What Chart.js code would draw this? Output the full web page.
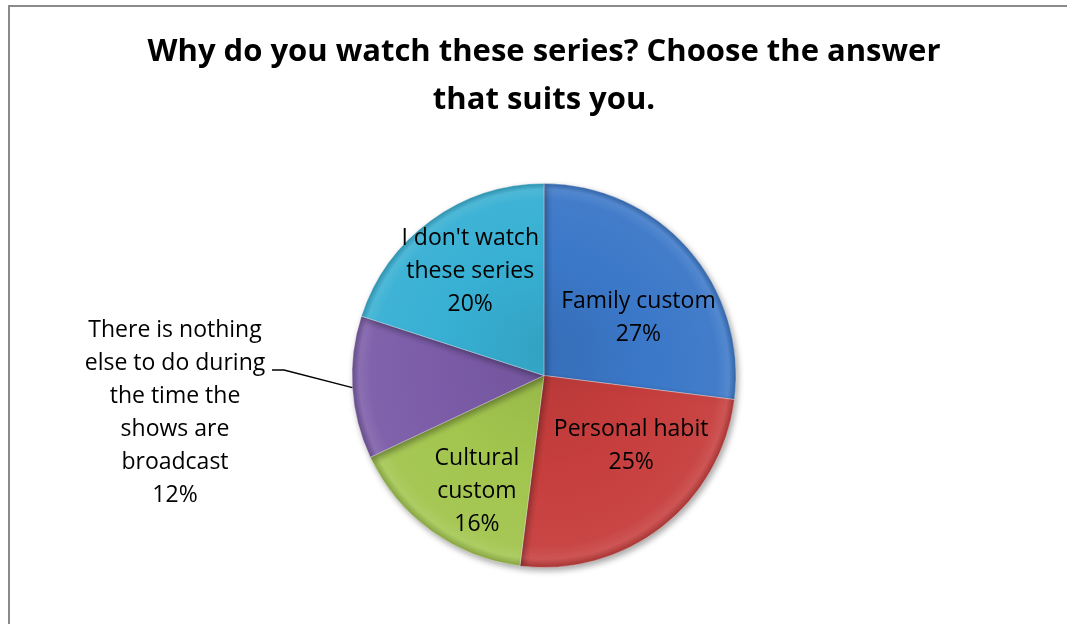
<!DOCTYPE html>
<html>
<head>
<meta charset="utf-8">
<title>Why do you watch these series?</title>
<script src="https://cdn.jsdelivr.net/npm/chart.js@4/dist/chart.umd.min.js"></script>
<style>
  html, body { margin: 0; padding: 0; background: #ffffff; }
  #wrap { position: relative; width: 1067px; height: 624px; overflow: hidden; }
  #frame { position: absolute; left: 8px; top: 5px; width: 1200px; height: 700px;
           border: 2px solid #8a8a8a; box-sizing: border-box; }
  #c { position: absolute; left: 0; top: 0; }
</style>
</head>
<body>
<div id="wrap">
  <div id="frame"></div>
  <canvas id="c" width="1067" height="624"></canvas>
</div>
<script>
// Survey answers, clockwise from 12 o'clock
const categories = [
  "Family custom",
  "Personal habit",
  "Cultural custom",
  "There is nothing else to do during the time the shows are broadcast",
  "I don't watch these series"
];
const shares = [27, 25, 16, 12, 20];
const labelLines = [
  ["Family custom"],
  ["Personal habit"],
  ["Cultural", "custom"],
  ["There is nothing", "else to do during", "the time the", "shows are", "broadcast"],
  ["I don't watch", "these series"]
];
const sliceColors = ["#3b78c8", "#c63e3d", "#a2c54e", "#7b5ba7", "#37b0d3"];

const FONT = "'Open Sans', sans-serif";

function shade(hex, amt) {
  const n = parseInt(hex.slice(1), 16);
  let r = (n >> 16) & 255, g = (n >> 8) & 255, b = n & 255;
  const f = c => Math.max(0, Math.min(255, Math.round(amt >= 0 ? c + (255 - c) * amt : c * (1 + amt))));
  return "rgb(" + f(r) + "," + f(g) + "," + f(b) + ")";
}

// Glossy fill: slightly darker core, lighter rim just inside the edge
function sliceFill(ctx) {
  const area = ctx.chart.chartArea;
  const base = sliceColors[ctx.dataIndex];
  if (!area) return base;
  const cx = (area.left + area.right) / 2;
  const cy = (area.top + area.bottom) / 2;
  const r = Math.min(area.right - area.left, area.bottom - area.top) / 2;
  const g = ctx.chart.ctx.createRadialGradient(cx, cy - r * 0.15, 0, cx, cy, r);
  g.addColorStop(0, shade(base, -0.08));
  g.addColorStop(0.55, base);
  g.addColorStop(0.9, shade(base, 0.04));
  g.addColorStop(0.96, shade(base, 0.12));
  g.addColorStop(1, shade(base, -0.18));
  return g;
}

// Soft drop shadow under the pie
const pieShadow = {
  id: "pieShadow",
  beforeDatasetsDraw(chart) {
    const ctx = chart.ctx;
    ctx.save();
    ctx.shadowColor = "rgba(0,0,0,0.35)";
    ctx.shadowBlur = 6;
    ctx.shadowOffsetX = 2;
    ctx.shadowOffsetY = 3;
  },
  afterDatasetsDraw(chart) {
    chart.ctx.restore();
  }
};

// Category name + percentage labels
const sliceLabels = {
  id: "sliceLabels",
  afterDraw(chart, args, opts) {
    const ctx = chart.ctx;
    const meta = chart.getDatasetMeta(0);
    const data = chart.data.datasets[0].data;
    ctx.save();
    ctx.font = opts.size + "px " + FONT;
    ctx.fillStyle = "#000000";
    ctx.textAlign = "center";
    ctx.textBaseline = "middle";
    meta.data.forEach((arc, i) => {
      const p = arc.getProps(["x", "y", "outerRadius", "startAngle", "endAngle"], true);
      const lines = labelLines[i].concat([data[i] + "%"]);
      const place = opts.placement[i];
      let lx, ly;
      if (place.outside) {
        const mid = (p.startAngle + p.endAngle) / 2;
        const ex = p.x + Math.cos(mid) * p.outerRadius;
        const ey = p.y + Math.sin(mid) * p.outerRadius;
        lx = place.x; ly = place.y;
        ctx.strokeStyle = "#000000";
        ctx.lineWidth = 1.3;
        ctx.beginPath();
        ctx.moveTo(ex, ey);
        ctx.lineTo(place.lineX + 12, place.lineY);
        ctx.lineTo(place.lineX, place.lineY);
        ctx.stroke();
      } else {
        const a = (place.angle - 90) * Math.PI / 180;
        lx = p.x + Math.cos(a) * p.outerRadius * place.frac;
        ly = p.y + Math.sin(a) * p.outerRadius * place.frac;
      }
      const h = opts.lineHeight;
      const top = ly - (lines.length - 1) * h / 2 + 1.5;
      lines.forEach((t, k) => ctx.fillText(t, lx, top + k * h));
    });
    ctx.restore();
  }
};

new Chart(document.getElementById("c"), {
  type: "pie",
  data: {
    labels: categories,
    datasets: [{
      data: shares,
      backgroundColor: sliceFill,
      borderColor: "rgba(255,255,255,0.35)",
      borderWidth: 1
    }]
  },
  options: {
    responsive: false,
    animation: false,
    rotation: 0,
    layout: { padding: { left: 21, right: 0, top: 0, bottom: 56 } },
    plugins: {
      legend: { display: false },
      tooltip: { enabled: false },
      title: {
        display: true,
        text: ["Why do you watch these series? Choose the answer", "that suits you."],
        color: "#000000",
        font: { family: FONT, size: 31, weight: "bold", lineHeight: 1.548 },
        padding: { top: 28, bottom: 59 }
      },
      sliceLabels: {
        size: 23,
        lineHeight: 33,
        placement: [
          { frac: 0.58, angle: 58 },
          { frac: 0.58, angle: 128.5 },
          { frac: 0.69, angle: 210.4 },
          { outside: true, x: 175, y: 411, lineX: 272, lineY: 370 },
          { frac: 0.67, angle: 325 }
        ]
      }
    }
  },
  plugins: [pieShadow, sliceLabels]
});
</script>
</body>
</html>
